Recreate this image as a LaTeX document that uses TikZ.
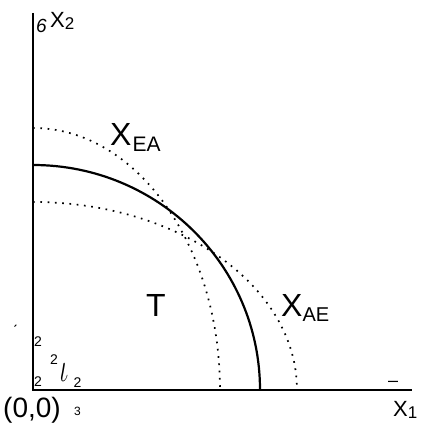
\documentclass[tikz,border=0pt]{standalone}
\usepackage{fontspec}
\setmainfont{Liberation Sans}
\usepackage{tikz}
\usetikzlibrary{positioning}

\begin{document}
\begin{tikzpicture}[x=1pt, y=1pt,
  axis/.style={line width=1.8pt},
  frontier/.style={line width=2.2pt},
  dotfront/.style={line width=1.7pt, dash pattern=on 1.7pt off 5.6pt},
  big/.style={font=\fontsize{32}{32}\selectfont, inner sep=0pt, anchor=base west},
  lab/.style={font=\fontsize{22}{22}\selectfont, inner sep=0pt, anchor=base west},
  junk/.style={font=\fontsize{14}{14}\selectfont, inner sep=0pt}]
\useasboundingbox (0,0) rectangle (420,425);
% axes
\coordinate (O) at (33,35);
\coordinate (ytop) at (33,412);
\coordinate (xend) at (412,35);
\draw[axis] (ytop) -- (O) -- (xend);
% frontiers
\draw[frontier] (33,260) arc[start angle=90, end angle=0, x radius=227, y radius=225];
\draw[dotfront] (33,297) arc[start angle=90, end angle=0, x radius=187, y radius=262];
\draw[dotfront] (33,223) arc[start angle=90, end angle=0, x radius=264, y radius=188];
% labels
\node[big] (xea) at (110,279) {X\kern1pt\raisebox{-6pt}{\fontsize{21}{21}\selectfont EA}};
\node[big] (xae) at (281,108) {X\raisebox{-5pt}{\fontsize{20}{20}\selectfont AE}};
\node[big] (t) at (146,108) {T};
\node[lab] (x2) at (50,397) {X\raisebox{-2pt}{\fontsize{17}{17}\selectfont 2}};
\node[lab, font=\fontsize{19}{19}\selectfont\itshape] (six) at (36,392) {6};
\node[lab] (x1) at (393,9) {X\raisebox{-2pt}{\fontsize{17}{17}\selectfont 1}};
\node[font=\fontsize{18}{18}\selectfont, inner sep=0pt] (dash) at (393,41) {–};
\node[lab, font=\fontsize{28}{28}\selectfont] (orig) at (3,8) {(0,0)};
\node[font=\fontsize{12}{12}\selectfont, inner sep=0pt] (three) at (77.5,14) {3};
\node[font=\fontsize{16}{16}\selectfont, inner sep=0pt] (acc) at (15,93) {\'{}};
\node[junk] (twoa) at (38,83) {2};
\node[junk] (twob) at (38,43) {2};
\node[junk] (twoc) at (54,65) {2};
\node[font=\fontsize{22}{22}\selectfont, inner sep=0pt] (iota) at (64,52) {\scalebox{1.2}[2]{$\iota$}};
\node[junk] (twod) at (77.5,42) {2};
\end{tikzpicture}
\end{document}
